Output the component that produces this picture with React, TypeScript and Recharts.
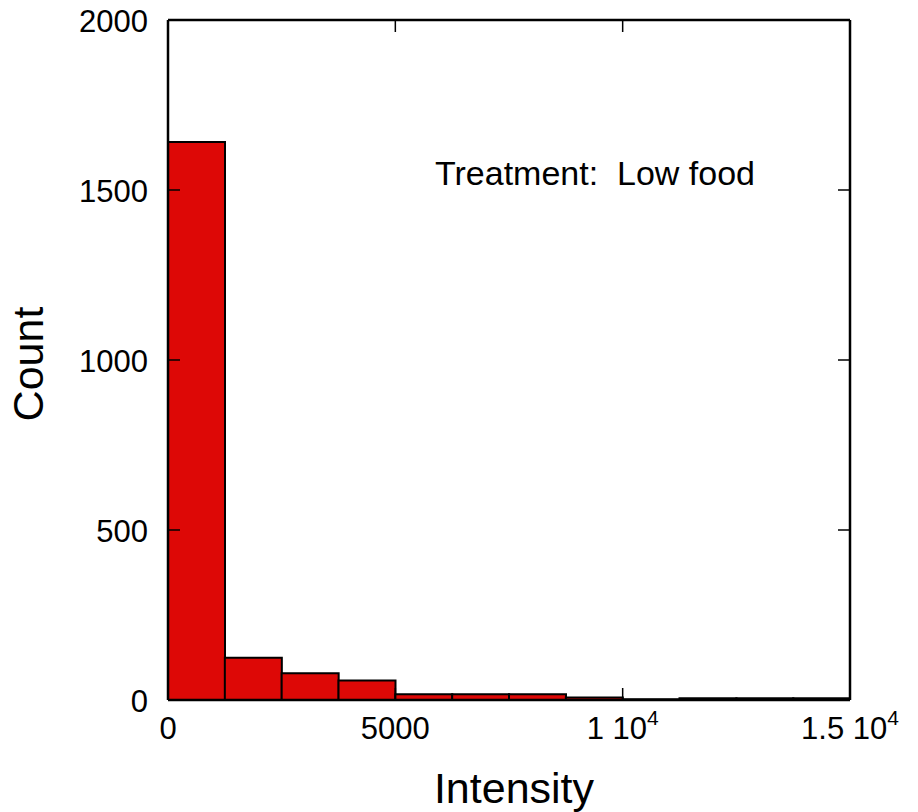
import { BarChart, Bar, XAxis, YAxis, ReferenceLine, Customized } from 'recharts';

// histogram of intensity, bin width 1250
const binWidth = 1250;
const binStart = [0, 1250, 2500, 3750, 5000, 6250, 7500, 8750, 10000, 11250, 12500, 13750];
const counts = [1641, 124, 79, 57, 17, 17, 17, 7, 2, 5, 5, 5];

const xTicks = [0, 5000, 10000, 15000];
const xTickBase = ['0', '5000', '1 10', '1.5 10'];
const xTickExp = ['', '', '4', '4'];
const yTicks = [0, 500, 1000, 1500, 2000];

const annotation = 'Treatment:  Low food';
const xTitle = 'Intensity';
const yTitle = 'Count';

const data = binStart.map((b, i) => ({ mid: b + binWidth / 2, count: counts[i] }));

const W = 918;
const H = 812;
const PLOT = { left: 168, top: 20, right: 850, bottom: 700 };
const TICK = 12;
const FONT = '"Liberation Sans", Arial, Helvetica, sans-serif';

// bottom tick + label, plus the mirrored tick on the top frame
const BottomTick = (props: any) => {
  const { x, payload } = props;
  const i = xTicks.indexOf(payload.value);
  return (
    <g>
      <line x1={x} x2={x} y1={PLOT.bottom} y2={PLOT.bottom - TICK} stroke="#000" strokeWidth={1.5} />
      <line x1={x} x2={x} y1={PLOT.top} y2={PLOT.top + TICK} stroke="#000" strokeWidth={1.5} />
      <text x={x} y={PLOT.bottom + 39} textAnchor="middle" fontSize={31} fontFamily={FONT} fill="#000">
        {xTickBase[i]}
        {xTickExp[i] ? (
          <tspan fontSize={21} dy={-14}>{xTickExp[i]}</tspan>
        ) : null}
      </text>
    </g>
  );
};

// left tick + label, plus the mirrored tick on the right frame
const LeftTick = (props: any) => {
  const { y, payload } = props;
  return (
    <g>
      <line x1={PLOT.left} x2={PLOT.left + TICK} y1={y} y2={y} stroke="#000" strokeWidth={1.5} />
      <line x1={PLOT.right} x2={PLOT.right - TICK} y1={y} y2={y} stroke="#000" strokeWidth={1.5} />
      <text x={PLOT.left - 20} y={y + 12} textAnchor="end" fontSize={31} fontFamily={FONT} fill="#000">
        {payload.value}
      </text>
    </g>
  );
};

const Titles = () => (
  <g fontFamily={FONT} fill="#000">
    <text x={435} y={185} fontSize={34} style={{ whiteSpace: 'pre' }}>
      {annotation}
    </text>
    <text x={514} y={803} fontSize={43} textAnchor="middle">
      {xTitle}
    </text>
    <text x={43} y={364} fontSize={43} textAnchor="middle" transform="rotate(-90 43 364)">
      {yTitle}
    </text>
  </g>
);

const axisLine = { stroke: '#000', strokeWidth: 2.5 };

export default function App() {
  return (
    <div style={{ position: 'absolute', left: 0, top: 0, width: W, height: H, background: '#fff' }}>
      <BarChart
        width={W}
        height={H}
        data={data}
        barCategoryGap={0}
        barGap={0}
        margin={{ top: PLOT.top, right: W - PLOT.right, bottom: H - PLOT.bottom - 1, left: PLOT.left - 1 }}
      >
        <XAxis
          dataKey="mid"
          type="number"
          domain={[0, 15000]}
          ticks={xTicks}
          height={1}
          tickLine={false}
          tickSize={0}
          tick={<BottomTick />}
          interval={0}
          axisLine={axisLine}
          allowDataOverflow
        />
        <YAxis
          type="number"
          domain={[0, 2000]}
          ticks={yTicks}
          width={1}
          tickLine={false}
          tickSize={0}
          tick={<LeftTick />}
          interval={0}
          axisLine={axisLine}
          allowDataOverflow
        />
        <Bar
          dataKey="count"
          fill="#dd0806"
          stroke="#000"
          strokeWidth={2}
          isAnimationActive={false}
        />
        <ReferenceLine y={2000} stroke="#000" strokeWidth={2.5} ifOverflow="extendDomain" />
        <ReferenceLine x={15000} stroke="#000" strokeWidth={2.5} ifOverflow="extendDomain" />
        <Customized component={Titles} />
      </BarChart>
    </div>
  );
}
